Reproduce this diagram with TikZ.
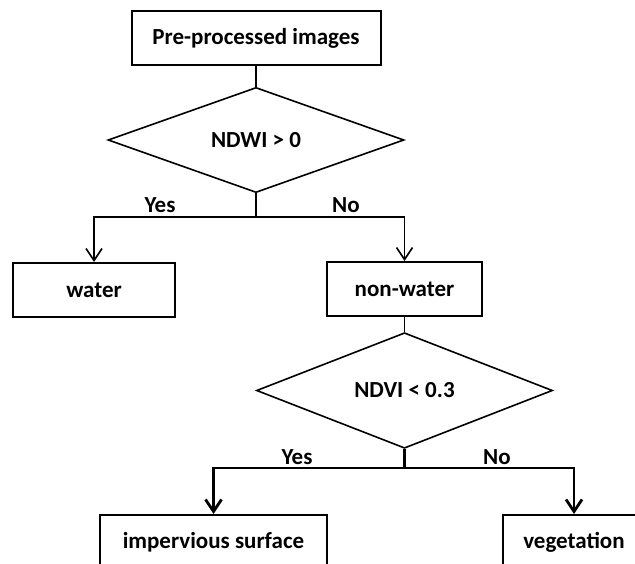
\documentclass[tikz,border=0pt]{standalone}
\usepackage{fontspec}
\setmainfont{Carlito}
\usetikzlibrary{positioning,arrows.meta,shapes.geometric}

\begin{document}
\begin{tikzpicture}[x=1pt,y=-1pt,
  font=\fontsize{23}{27}\selectfont\bfseries,
  box/.style={draw,line width=2pt,inner sep=0,minimum height=54pt},
  decision/.style={draw,diamond,line width=1.6pt,inner sep=0,minimum width=296pt,minimum height=80pt},
  link/.style={line width=1.6pt},
  heavy/.style={line width=2.8pt},
  tip/.style={-{Straight Barb[length=12pt,width=16pt]}}]
  \useasboundingbox (0,0) rectangle (635,564);
  \node[box,minimum width=249pt] (pre) at (256,38) {Pre-processed images};
  \node[decision] (ndwi) at (256,140) {NDWI > 0};
  \node[box,minimum width=162pt] (water) at (94,290) {water};
  \node[box,minimum width=155pt] (nonwater) at (404.5,289) {non-water};
  \node[decision,minimum height=79pt] (ndvi) at (404.5,390.5) {NDVI < 0.3};
  \node[box,minimum width=227pt] (imperv) at (213.5,542) {impervious surface};
  \node[box,minimum width=142pt] (veg) at (574,542) {vegetation};
  % branch points
  \coordinate (split1) at (256,217);
  \coordinate (split2) at (404.5,468);
  \draw[link] (pre) -- (ndwi);
  \draw[link] (ndwi) -- (split1);
  \draw[link,tip] (split1) -| (water);
  \draw[link,tip] (split1) -| (nonwater);
  \draw[link] (nonwater) -- (ndvi);
  \draw[heavy] (ndvi) -- (split2);
  \draw[heavy,tip] (split2) -| (imperv);
  \draw[heavy,tip] (split2) -| (veg);
  % branch labels
  \node (yes1) at (160,205) {Yes};
  \node (no1) at (346,205) {No};
  \node (yes2) at (297,457) {Yes};
  \node (no2) at (497,457) {No};
\end{tikzpicture}
\end{document}
